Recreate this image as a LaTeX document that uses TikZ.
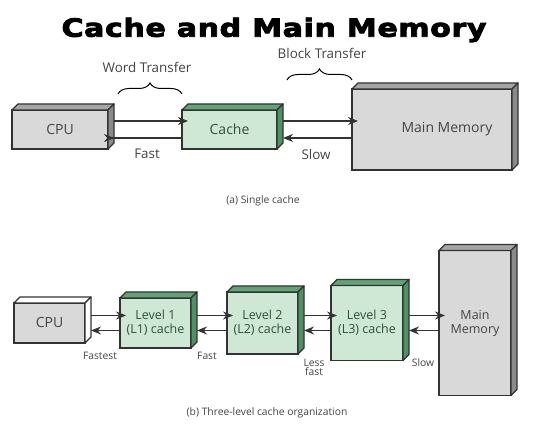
\documentclass[tikz,border=0pt]{standalone}
\usepackage{fontspec}
\setmainfont{Open Sans}
\newfontfamily\titlefont[FakeStretch=1.2,FakeBold=3.5,LetterSpace=2.5]{DejaVu Sans Bold}
\usetikzlibrary{arrows.meta,decorations.pathreplacing}

\definecolor{boxgray}{HTML}{D9D9D9}
\definecolor{topgray}{HTML}{A6A6A6}
\definecolor{sidegray}{HTML}{8A8A8A}
\definecolor{boxgreen}{HTML}{CFE8D6}
\definecolor{topgreen}{HTML}{62A274}
\definecolor{sidegreen}{HTML}{4C9262}
\definecolor{edge}{HTML}{333333}
\definecolor{txt}{HTML}{444444}
\definecolor{cachetxt}{HTML}{2F4F3D}

\tikzstyle{membox} = [draw=edge, fill=boxgray, rectangle, line width=1.3pt,
    inner sep=0pt, outer sep=0pt, text=txt, align=center,
    font=\fontsize{14}{15}\selectfont]
\tikzstyle{cachebox} = [membox, fill=boxgreen, text=cachetxt]
\tikzstyle{lbl} = [text=txt, font=\fontsize{13.4}{14}\selectfont]
\tikzstyle{small} = [text=txt, font=\fontsize{10.3}{9.5}\selectfont, align=center]
\tikzstyle{arr} = [draw=edge, line width=1.2pt, -{Stealth[length=10pt,width=8pt]}]
\tikzstyle{brc} = [draw=black, line width=1pt, decorate,
    decoration={brace, amplitude=11pt, aspect=0.5}]

\begin{document}
\begin{tikzpicture}[x=1pt, y=-1pt]
    \useasboundingbox (0,0) rectangle (536,427);
    \fill[white] (0,0) rectangle (536,427);

    \node[text=black, anchor=base, inner sep=0pt,
        font=\titlefont\fontsize{25}{26}\selectfont] (title) at (274,36.7) {Cache and Main Memory};

    % (a) single cache
    \node [membox, minimum width=96pt, minimum height=39pt] (cpu1) at (60,129.5) {CPU};
    \node [cachebox, right of=cpu1, node distance=169.5pt,
        minimum width=95pt, minimum height=39pt] (cache1) {Cache};
    \node [membox, right of=cache1, node distance=202.5pt,
        minimum width=160pt, minimum height=81pt,
        label={[xshift=15pt, font=\fontsize{14}{15}\selectfont, text=txt]center:Main Memory}] (mem1) {};

    % (b) three-level cache organization
    \node [membox, minimum width=71pt, minimum height=40pt] (cpu2) at (49.5,323) {CPU};
    \node [cachebox, right of=cpu2, node distance=106pt, font=\fontsize{12.5}{14}\selectfont,
        minimum width=71pt, minimum height=50pt] (l1) {Level 1\\(L1) cache};
    \node [cachebox, right of=l1, node distance=107pt, font=\fontsize{12.5}{14}\selectfont,
        minimum width=71pt, minimum height=62pt] (l2) {Level 2\\(L2) cache};
    \node [cachebox, right of=l2, node distance=104.5pt, font=\fontsize{12.5}{14}\selectfont,
        minimum width=72pt, minimum height=75pt] (l3) {Level 3\\(L3) cache};
    \node [membox, right of=l3, node distance=108pt, font=\fontsize{12.5}{14}\selectfont,
        minimum width=72pt, minimum height=145pt] (mem2) {Main\\Memory};

    % depth faces
    \foreach \n/\tc/\sc in {cpu1/topgray/sidegray, cache1/topgreen/sidegreen,
        mem1/topgray/sidegray, cpu2/white/white, l1/topgreen/sidegreen,
        l2/topgreen/sidegreen, l3/topgreen/sidegreen, mem2/topgray/sidegray} {
        \draw[draw=edge, line width=1.3pt, line join=round, fill=\tc]
            (\n.north west) -- ++(6pt,6pt) -- ([shift={(6pt,6pt)}]\n.north east)
            -- (\n.north east) -- cycle;
        \draw[draw=edge, line width=1.3pt, line join=round, fill=\sc]
            (\n.north east) -- ++(6pt,6pt) -- ([shift={(6pt,6pt)}]\n.south east)
            -- (\n.south east) -- cycle;
    }

    % transfers (a)
    \draw[arr] ([shift={(6pt,8.5pt)}]cpu1.east) -- ([shift={(6pt,8.5pt)}]cpu1.east -| cache1.west);
    \draw[arr] ([yshift=-8.5pt]cache1.west) -- ([yshift=-8.5pt]cache1.west -| cpu1.east) -- ++(6pt,0);
    \draw[arr] ([shift={(6pt,8.5pt)}]cache1.east) -- ([shift={(6pt,8.5pt)}]cache1.east -| mem1.west);
    \draw[arr] ([shift={(0pt,-8.5pt)}]mem1.west |- cache1.east) -- ([shift={(6pt,-8.5pt)}]cache1.east);

    % transfers (b)
    \foreach \a/\b in {cpu2/l1, l1/l2, l2/l3, l3/mem2} {
        \draw[arr] ([shift={(6pt,7.5pt)}]\a.east) -- ([shift={(6pt,7.5pt)}]\a.east -| \b.west);
        \draw[arr] ([yshift=-7.5pt]\b.west |- \a.east) -- ([shift={(6pt,-7.5pt)}]\a.east);
    }

    % braces and labels
    \draw[brc] (118,94) -- (182,94);
    \draw[brc] (287,80) -- (352,80);
    \node[lbl] (word) at (147,67) {Word Transfer};
    \node[lbl] (block) at (322,53) {Block Transfer};
    \node[lbl] (fast1) at (147,154) {Fast};
    \node[lbl] (slow1) at (316,154) {Slow};
    \node[small] (capa) at (263,201) {(a) Single cache};

    \node[small] (fastest) at (100,356) {Fastest};
    \node[small] (fast2) at (207,356) {Fast};
    \node[small] (less) at (314,367.5) {Less\\fast};
    \node[small] (slow2) at (423,363) {Slow};
    \node[small] (capb) at (267,413) {(b) Three-level cache organization};
\end{tikzpicture}
\end{document}
